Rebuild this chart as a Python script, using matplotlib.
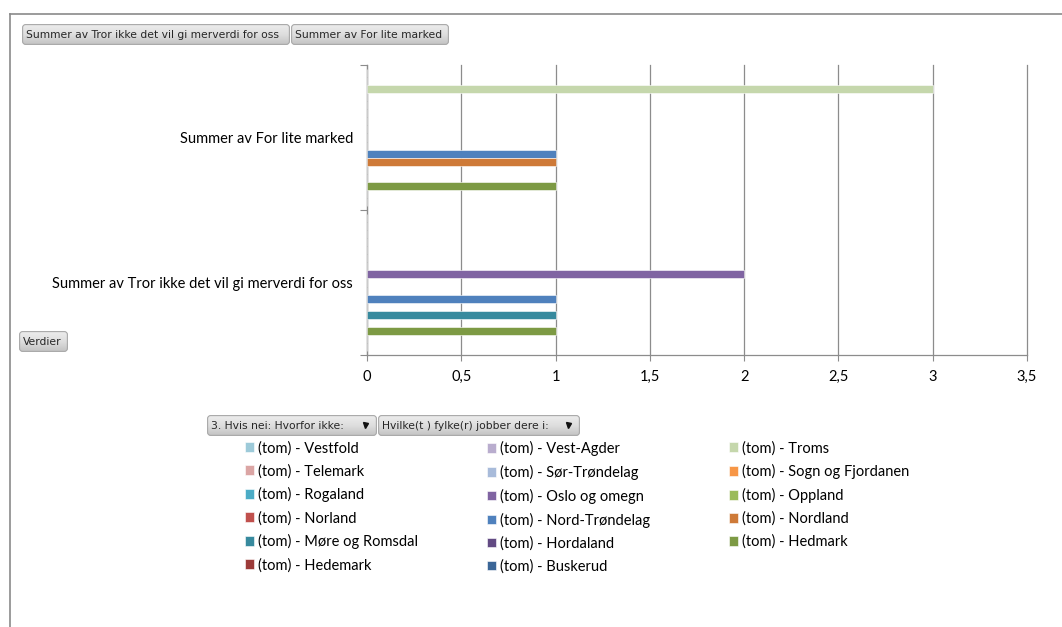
import numpy as np
import matplotlib
matplotlib.use("Agg")
import matplotlib.pyplot as plt
from matplotlib.patches import FancyBboxPatch
from matplotlib.lines import Line2D
from matplotlib.colors import LinearSegmentedColormap

# ---- data -------------------------------------------------------------
categories = ["Summer av Tror ikke det vil gi merverdi for oss",
              "Summer av For lite marked"]
series_names = ["(tom) - Vestfold", "(tom) - Vest-Agder", "(tom) - Troms",
                "(tom) - Telemark", "(tom) - Sør-Trøndelag", "(tom) - Sogn og Fjordanen",
                "(tom) - Rogaland", "(tom) - Oslo og omegn", "(tom) - Oppland",
                "(tom) - Norland", "(tom) - Nord-Trøndelag", "(tom) - Nordland",
                "(tom) - Møre og Romsdal", "(tom) - Hordaland", "(tom) - Hedmark",
                "(tom) - Hedemark", "(tom) - Buskerud"]
# values per series: [Tror ikke ..., For lite marked]
series_values = [[0, 0], [0, 0], [0, 3],
                 [0, 0], [0, 0], [0, 0],
                 [0, 0], [2, 0], [0, 0],
                 [0, 0], [1, 1], [0, 1],
                 [1, 0], [0, 0], [1, 1],
                 [0, 0], [0, 0]]
series_colors = ["#9DCAD9", "#B9ADCE", "#C5D7AC",
                 "#DBA5A4", "#A8BBDA", "#F79646",
                 "#4BACC6", "#8064A2", "#9BBB59",
                 "#C0504D", "#4F81BD", "#CE7A38",
                 "#378A9E", "#624A83", "#7D9A44",
                 "#9C3B39", "#3B6697"]
x_ticks = [0, 0.5, 1, 1.5, 2, 2.5, 3, 3.5]
x_tick_labels = ["0", "0,5", "1", "1,5", "2", "2,5", "3", "3,5"]

W, H = 1062, 627
fig = plt.figure(figsize=(W / 100, H / 100), dpi=100)
fig.patch.set_facecolor("white")

FONT = "Lato"
BTN_FONT = "DejaVu Sans"


def fx(px):
    return px / W


def fy(py):
    return 1 - py / H


# outer chart frame (top and left edges)
fig.add_artist(Line2D([fx(10), fx(1062)], [fy(14), fy(14)], color="#8a8a8a", lw=1.2))
fig.add_artist(Line2D([fx(10), fx(10)], [fy(14), fy(627)], color="#8a8a8a", lw=1.2))

# ---- bar chart --------------------------------------------------------
ax = fig.add_axes([fx(367), fy(355), fx(1027) - fx(367), (355 - 65) / H])
n = len(series_names)
bar_h = 1 / (n + 1.1)
cat_pos = np.arange(len(categories))
for i, (name, vals, col) in enumerate(zip(series_names, series_values, series_colors)):
    ypos = cat_pos + ((n - 1) / 2 - i) * bar_h
    ax.barh(ypos, vals, height=bar_h, color=col, edgecolor="white", linewidth=0.4,
            label=name, zorder=3)

ax.set_xlim(0, 3.5)
ax.set_ylim(-0.5, len(categories) - 0.5)
ax.set_xticks(x_ticks)
ax.set_xticklabels(x_tick_labels, fontfamily=FONT, fontsize=10.5)
ax.xaxis.grid(True, color="#8c8c8c", lw=0.9, zorder=0)
for gl in ax.get_xgridlines():
    gl.set_clip_on(False)
ax.tick_params(axis="x", length=4, color="#8c8c8c", pad=7)

ax.set_yticks(np.arange(-0.5, len(categories), 1.0))
ax.set_yticklabels([])
ax.set_yticks(cat_pos, minor=True)
ax.set_yticklabels(categories, minor=True, fontfamily=FONT, fontsize=10.5)
ax.tick_params(axis="y", which="major", length=5, color="#8c8c8c")
ax.tick_params(axis="y", which="minor", length=0, pad=10)

for side in ("top", "right"):
    ax.spines[side].set_visible(False)
for side in ("left", "bottom"):
    ax.spines[side].set_color("#8c8c8c")
    ax.spines[side].set_linewidth(0.9)


# ---- field buttons ----------------------------------------------------
btn_cmap = LinearSegmentedColormap.from_list("btn", ["#c2c2c2", "#dedede", "#ededed"])


def button(x0, y0, x1, y1, label, arrow=False):
    w, h = x1 - x0, y1 - y0
    bax = fig.add_axes([fx(x0), fy(y1), w / W, h / H])
    bax.set_axis_off()
    bax.set_xlim(0, w)
    bax.set_ylim(0, h)
    grad = np.linspace(0, 1, 64).reshape(-1, 1)
    im = bax.imshow(grad, extent=[0, w, 0, h], aspect="auto", cmap=btn_cmap,
                    origin="lower", interpolation="bilinear")
    box = FancyBboxPatch((0.6, 0.6), w - 1.2, h - 1.2,
                         boxstyle="round,pad=0,rounding_size=3",
                         facecolor="none", edgecolor="#a8a8a8", lw=0.8)
    bax.add_patch(box)
    im.set_clip_path(box)
    bax.text(4, h / 2 - 0.5, label, ha="left", va="center", fontfamily=BTN_FONT,
             fontsize=7.75, color="#262626")
    if arrow:
        bax.plot([w - 12], [h / 2 + 0.5], marker="v", markersize=3.6, color="#111111")


button(22, 24, 290, 45, categories[0])
button(291, 24, 449, 45, categories[1])
button(19, 331, 68, 352, "Verdier")
button(207, 415, 377, 436, "3. Hvis nei: Hvorfor ikke:", arrow=True)
button(378, 415, 580, 436, "Hvilke(t ) fylke(r) jobber dere i:", arrow=True)

# ---- legend (three columns, filled row by row) ------------------------
handles, labels = ax.get_legend_handles_labels()
col_x = [245, 487, 729]
for c in range(3):
    idx = list(range(c, n, 3))
    fig.legend([handles[k] for k in idx], [labels[k] for k in idx],
               loc="upper left", bbox_to_anchor=(fx(col_x[c]), fy(441)),
               frameon=False, ncol=1, handlelength=0.65, handleheight=0.65,
               handletextpad=0.25, labelspacing=0.6, borderpad=0, borderaxespad=0,
               prop={"family": FONT, "size": 10.5})

fig.savefig("out.png", dpi=100, facecolor="white")
